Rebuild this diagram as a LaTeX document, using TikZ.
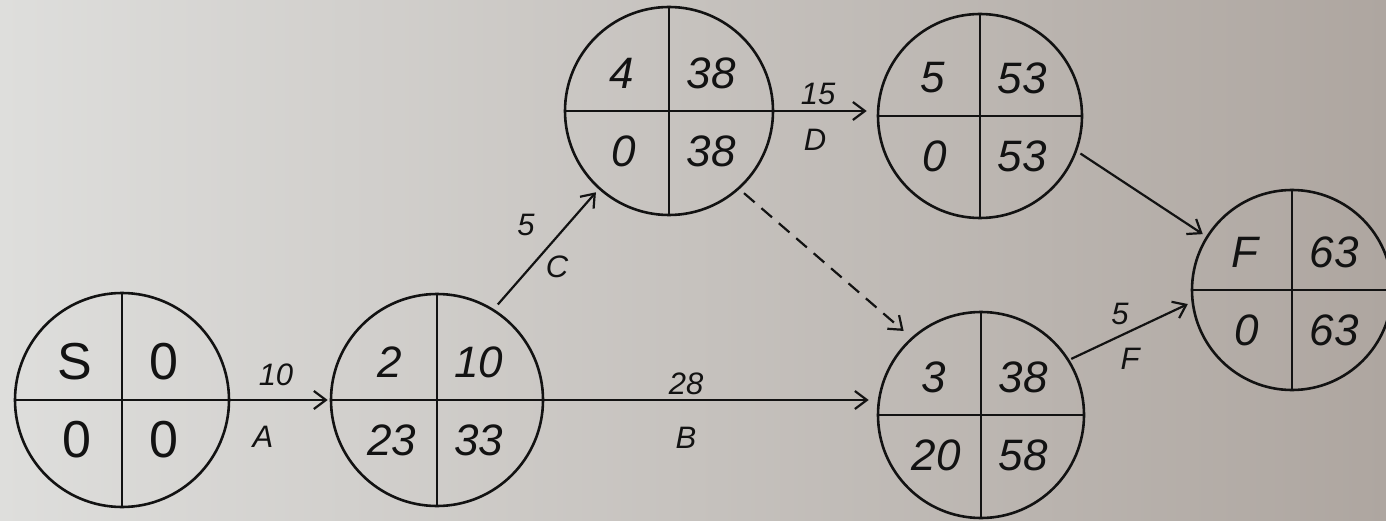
\documentclass[tikz,border=0pt]{standalone}
\usepackage{fontspec}
\setmainfont{Liberation Sans}
\usetikzlibrary{arrows.meta,calc}
\definecolor{bgL}{RGB}{222,222,220}
\definecolor{bgR}{RGB}{174,166,160}
\definecolor{ink}{RGB}{18,18,18}
\tikzset{
  evt/.style={circle,draw=ink,line width=2.6pt,inner sep=0pt},
  qtxt/.style={font=\fontsize{44}{44}\selectfont\itshape,text=ink,inner sep=0pt},
  stxt/.style={font=\fontsize{52}{52}\selectfont,text=ink,inner sep=0pt},
  elbl/.style={font=\fontsize{31}{31}\selectfont\itshape,text=ink,inner sep=0pt},
  act/.style={line width=2.2pt,draw=ink,-{Straight Barb[length=12pt,width=18pt,line width=2.2pt]}},
  dummy/.style={act,dash pattern=on 14pt off 9pt},
}
\newcommand\evnode[9]{%
  \node[evt,minimum size=#4pt] (#1) at (#2,#3) {};
  \draw[line width=2.2pt,draw=ink] (#1.north) -- (#1.south) (#1.west) -- (#1.east);
  \node[#9] (#1tl) at ($(#1)+(-47,-38)$) {#5};
  \node[#9] (#1tr) at ($(#1)+(42,-38)$) {#6};
  \node[#9] (#1bl) at ($(#1)+(-45,40)$) {#7};
  \node[#9] (#1br) at ($(#1)+(42,40)$) {#8};
}
\begin{document}
\begin{tikzpicture}[x=1pt,y=-1pt]
  \useasboundingbox (0,0) rectangle (1386,521);
  \clip (0,0) rectangle (1386,521);
  \shade[left color=bgL,right color=bgR] (0,0) rectangle (1386,521);

  \evnode{nS}{122}{400}{214}{S}{0}{0}{0}{stxt}
  \evnode{n2}{437}{400}{212}{2}{10}{23}{33}{qtxt}
  \evnode{n4}{669}{111}{208}{4}{38}{0}{38}{qtxt}
  \evnode{n5}{980}{116}{204}{5}{53}{0}{53}{qtxt}
  \evnode{n3}{981}{415}{206}{3}{38}{20}{58}{qtxt}
  \evnode{nF}{1292}{290}{200}{F}{63}{0}{63}{qtxt}

  % activities
  \draw[act,shorten >=2pt] (nS) -- (n2);
  \draw[act,shorten >=8pt] (n2.east) -- (n2.east -| n3.west);
  \draw[act,shorten >=10pt] (n4.east) -- (n4.east -| n5.west);
  \draw[act,shorten <=6pt,shorten >=4pt] (n2.58) -- (n4.228);
  \draw[dummy,shorten <=6pt,shorten >=10pt] (n4.-48) -- (n3.132);
  \draw[act,shorten <=4pt,shorten >=4pt] (n5.-20) -- (nF.148);
  \draw[act,shorten <=2pt,shorten >=4pt] (n3.32) -- (nF.187);

  % activity labels
  \node[elbl] (lA1) at (276,375) {10};
  \node[elbl] (lA2) at (263,437) {A};
  \node[elbl] (lB1) at (686,384) {28};
  \node[elbl] (lB2) at (686,438) {B};
  \node[elbl] (lC1) at (526,225) {5};
  \node[elbl] (lC2) at (557,267) {C};
  \node[elbl] (lD1) at (818,94) {15};
  \node[elbl] (lD2) at (815,140) {D};
  \node[elbl] (lF1) at (1120,314) {5};
  \node[elbl] (lF2) at (1130,359) {F};
\end{tikzpicture}
\end{document}
